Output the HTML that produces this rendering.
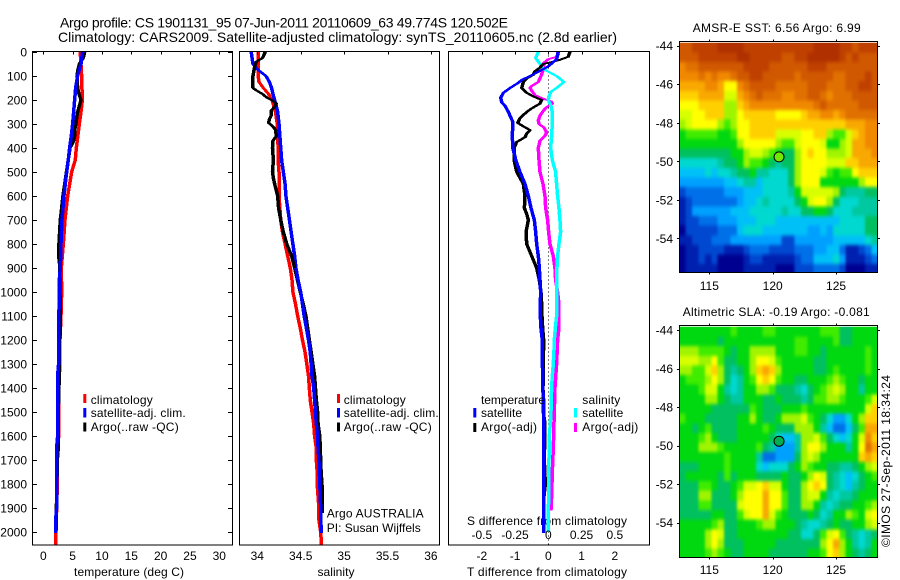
<!DOCTYPE html>
<html>
<head>
<meta charset="utf-8">
<title>Argo profile chart</title>
<style>
html,body{margin:0;padding:0;background:#fff;}
svg{display:block;}
text{font-family:"Liberation Sans",sans-serif;font-size:12px;fill:#000;}
.t14{font-size:14px;}
</style>
</head>
<body>
<svg id="chart" width="900" height="580" viewBox="0 0 900 580" xmlns="http://www.w3.org/2000/svg">
<rect x="0" y="0" width="900" height="580" fill="#fff"/>
<text class="t14" x="60" y="27.5" textLength="448" lengthAdjust="spacing">Argo profile: CS 1901131_95 07-Jun-2011 20110609_63 49.774S 120.502E</text>
<text class="t14" x="58" y="42" textLength="559" lengthAdjust="spacing">Climatology: CARS2009. Satellite-adjusted climatology: synTS_20110605.nc (2.8d earlier)</text>

<text x="74" y="576" textLength="110" lengthAdjust="spacing">temperature (deg C)</text>
<text x="317.5" y="576" textLength="37" lengthAdjust="spacing">salinity</text>
<text x="467" y="576" textLength="160" lengthAdjust="spacing">T difference from climatology</text>
<text x="467" y="525" textLength="160" lengthAdjust="spacing">S difference from climatology</text>

<text x="692.7" y="32" textLength="168" lengthAdjust="spacing">AMSR-E SST: 6.56 Argo: 6.99</text>
<text x="682.7" y="316" textLength="187" lengthAdjust="spacing">Altimetric SLA: -0.19 Argo: -0.081</text>
<text transform="translate(890,547) rotate(-90)" textLength="172" lengthAdjust="spacing">©IMOS 27-Sep-2011 18:34:24</text>
<g id="plots"></g>
<g id="overlay">
<rect x="83.3" y="394" width="3" height="9" fill="#f00"/>
<rect x="83.3" y="408" width="3" height="9.5" fill="#00f"/>
<rect x="83.3" y="422.5" width="3" height="9" fill="#000"/>
<text x="90.7" y="404" textLength="62" lengthAdjust="spacing">climatology</text>
<text x="90.7" y="417" textLength="95" lengthAdjust="spacing">satellite-adj. clim.</text>
<text x="90.7" y="431" textLength="88" lengthAdjust="spacing">Argo(..raw -QC)</text>

<rect x="337" y="394" width="3" height="9" fill="#f00"/>
<rect x="337" y="408" width="3" height="9.5" fill="#00f"/>
<rect x="337" y="422.5" width="3" height="9" fill="#000"/>
<text x="343.7" y="404" textLength="62" lengthAdjust="spacing">climatology</text>
<text x="343.7" y="417" textLength="95" lengthAdjust="spacing">satellite-adj. clim.</text>
<text x="343.7" y="431" textLength="88" lengthAdjust="spacing">Argo(..raw -QC)</text>
<text x="326.7" y="517.5" textLength="97" lengthAdjust="spacing">Argo AUSTRALIA</text>
<text x="326.7" y="532" textLength="94" lengthAdjust="spacing">PI: Susan Wijffels</text>

<text x="481" y="404" textLength="64" lengthAdjust="spacing">temperature</text>
<rect x="473.3" y="408" width="3" height="9.5" fill="#00f"/>
<rect x="473.3" y="423" width="3" height="9" fill="#000"/>
<text x="481" y="417" textLength="41" lengthAdjust="spacing">satellite</text>
<text x="481" y="431" textLength="56" lengthAdjust="spacing">Argo(-adj)</text>
<text x="582.3" y="404" textLength="38" lengthAdjust="spacing">salinity</text>
<rect x="574" y="408" width="3" height="9.5" fill="#0ff"/>
<rect x="574" y="423" width="3" height="9" fill="#f0f"/>
<text x="582.3" y="417" textLength="41" lengthAdjust="spacing">satellite</text>
<text x="582.3" y="431" textLength="56" lengthAdjust="spacing">Argo(-adj)</text>
</g>
</svg>
<script>
/* ---------- profile data ---------- */
var depthTicks = [0,100,200,300,400,500,600,700,800,900,1000,1100,1200,1300,1400,1500,1600,1700,1800,1900,2000];
var tempTicks = [0,5,10,15,20,25,30];
var salTicks = [34,34.5,35,35.5,36];
var salTickLabels = ['34','34.5','35','35.5','36'];
var tDiffTicks = [-2,-1,0,1,2];
var sDiffTicks = [-0.5,-0.25,0,0.25,0.5];
var sDiffTickLabels = ['-0.5','-0.25','0','0.25','0.5'];

var climTempDepth = [0,100,200,250,300,400,450,500,600,700,800,900,1000,1100,1200,1300,1400,1500,1600,1700,1800,1900,2000,2053];
var climTemp = [6.3,6.53,6.65,6.42,6.14,5.63,5.45,4.83,4.15,3.69,3.41,3.07,3.13,3.01,2.84,2.84,2.61,2.61,2.61,2.39,2.39,2.27,2.16,2.16];
var satTempDepth = [0,50,100,150,200,250,300,350,400,450,500,550,600,700,800,900,950,1000,1050,1100,1300,1350,1600,1650,1900,1950,2005];
var satTemp = [6.7,6.42,5.85,5.51,5.34,5.17,5.0,4.77,4.49,4.26,3.98,3.75,3.52,3.18,3.01,2.9,2.73,2.73,2.73,2.61,2.61,2.44,2.44,2.27,2.27,2.1,2.1];
var argoTempDepth = [0,25,50,75,100,125,150,175,200,225,250,275,300,325,350,375,400,500,600,650,700,750,800,860,900,1000,1100,1170,1200,1300,1400,1500,1650,1700,2000];
var argoTemp = [7.05,6.8,6.14,5.9,5.74,5.8,5.85,6.08,6.42,6.14,5.85,5.68,5.57,5.34,5.34,5.11,4.55,3.95,3.35,3.13,2.9,2.78,2.67,2.67,2.84,2.84,2.9,2.9,2.73,2.73,2.67,2.55,2.55,2.39,2.16];

var climSalDepth = [0,50,100,125,150,175,200,250,300,350,400,450,500,550,600,650,700,750,800,850,900,950,1000,1050,1100,1150,1200,1250,1300,1350,1400,1450,1500,1550,1600,1650,1700,1750,1800,1850,1900,1950,2000,2053];
var climSal = [34.01,34.01,34.01,34.02,34.07,34.13,34.17,34.21,34.23,34.235,34.24,34.24,34.25,34.25,34.25,34.26,34.27,34.29,34.32,34.35,34.38,34.40,34.41,34.44,34.465,34.495,34.52,34.55,34.57,34.59,34.6,34.61,34.63,34.65,34.66,34.68,34.68,34.69,34.69,34.70,34.71,34.71,34.73,34.74];
var satSalDepth = [0,25,50,75,100,125,150,175,200,250,300,350,400,450,500,550,600,650,700,750,800,850,900,950,1000,1050,1100,1150,1200,1250,1300,1350,1400,1450,1500,1550,1600,1650,1700,1750,1800,1850,1900,1950,2005];
var satSal = [33.93,33.94,33.95,34.01,34.10,34.14,34.165,34.18,34.20,34.235,34.25,34.26,34.27,34.28,34.30,34.32,34.33,34.35,34.37,34.39,34.41,34.43,34.445,34.47,34.50,34.52,34.54,34.565,34.59,34.61,34.62,34.63,34.65,34.66,34.67,34.68,34.695,34.70,34.71,34.715,34.72,34.725,34.73,34.73,34.74];
var argoSalDepth = [0,10,25,40,60,80,100,125,150,160,175,190,200,215,230,245,265,280,295,310,325,350,370,400,450,500,525,550,600,650,700,750,800,850,900,1000,1050,1100,1150,1200,1250,1300,1350,1400,1450,1500,1550,1600,1650,1700,1750,1800,1850,1920];
var argoSal = [34.09,34.08,34.06,33.99,33.97,33.96,33.95,33.95,33.95,33.99,34.06,34.11,34.165,34.22,34.195,34.16,34.16,34.14,34.13,34.18,34.21,34.22,34.18,34.175,34.185,34.175,34.185,34.2,34.235,34.245,34.27,34.30,34.34,34.395,34.43,34.495,34.53,34.56,34.58,34.60,34.62,34.64,34.66,34.67,34.68,34.695,34.70,34.72,34.725,34.73,34.735,34.745,34.75,34.75];

var satTDiffDepth = [0,30,60,75,100,115,130,150,170,190,210,225,250,275,290,350,400,425,450,500,550,600,650,700,750,800,850,900,950,1000,1050,1100,1150,1200,1400,1450,1800,2005];
var satTDiff = [0.3,0.25,0,-0.2,-0.55,-0.78,-0.92,-1.15,-1.35,-1.43,-1.4,-1.3,-1.2,-1.12,-1.07,-1.08,-1.07,-1.02,-0.98,-0.85,-0.7,-0.6,-0.52,-0.42,-0.38,-0.35,-0.3,-0.27,-0.25,-0.23,-0.24,-0.24,-0.22,-0.18,-0.17,-0.14,-0.14,-0.14];
var argoTDiffDepth = [0,20,35,50,65,80,95,110,125,150,170,185,200,215,235,250,275,295,310,325,340,355,375,400,450,500,525,550,600,650,675,700,750,800,850,900,950,1000,1050,1100,1150,1200,1400,1500,1550,1700,1800,1850,1950];
var argoTDiff = [0.65,0.6,0.3,-0.15,-0.25,-0.4,-0.45,-0.65,-0.75,-0.8,-0.65,-0.45,-0.2,-0.25,-0.5,-0.65,-0.85,-0.92,-0.75,-0.55,-0.65,-0.7,-0.95,-1.03,-1.03,-0.95,-0.85,-0.75,-0.7,-0.72,-0.65,-0.6,-0.67,-0.65,-0.5,-0.35,-0.27,-0.22,-0.2,-0.19,-0.17,-0.14,-0.16,-0.15,-0.1,-0.12,-0.09,-0.13,-0.14];
var satSDiffDepth = [0,25,50,75,100,125,150,165,185,200,225,250,300,350,400,450,500,550,600,650,700,750,800,850,900,1050,1100,1150,1200,1250,1300,1350,1400,1450,1500,1550,1600,1650,1700,1850,1900,2000];
var satSDiff = [-0.075,-0.095,-0.0625,-0.025,0.0625,0.1175,0.0625,0.02,0.005,0,0.02,0.03,0.03,0.025,0.0175,0.03,0.055,0.0625,0.07,0.08,0.0875,0.0925,0.08,0.07,0.065,0.065,0.0625,0.0525,0.045,0.0425,0.0375,0.03,0.025,0.0225,0.02,0.015,0.0075,0.0075,0.005,0.005,0,0];
var argoSDiffDepth = [0,10,20,30,45,60,75,100,125,140,150,165,180,195,205,215,230,245,265,285,300,315,335,350,370,400,450,500,550,600,650,700,750,800,850,900,950,1000,1050,1150,1200,1300,1400,1500,1550,1650,1750,1850,1910];
var argoSDiff = [0.07,0.075,0.0625,0,-0.0325,-0.0375,-0.0375,-0.055,-0.075,-0.12,-0.1375,-0.12,-0.1,-0.0375,0.02,0.03,-0.0125,-0.0375,-0.0625,-0.075,-0.07,-0.0325,-0.0125,-0.025,-0.0625,-0.075,-0.07,-0.0625,-0.04,-0.025,-0.02,-0.005,0.0025,0.0125,0.0375,0.05,0.055,0.07,0.08,0.08,0.07,0.0625,0.05,0.045,0.0425,0.0375,0.03,0.025,0.02];

/* ---------- map data (colour-level per grid cell) ---------- */
var mapLonTicks = [115,120,125];
var mapLatTicks = [-44,-46,-48,-50,-52,-54];
var argoLon = 120.5;
var argoLat = -49.77;
var levelColors = ['#000090','#0020b0','#0048d0','#0070e8','#00a0ff','#00c0f8','#00d8d0','#00c8a0','#00c060','#00d810','#40ec00','#a0f400','#d8ff00','#ffff00','#ffd000','#f8a800','#f08800','#e07000','#d05800','#c04000','#b03000'];
var sstLevels = [
[18,18,19,19,19,19,20,20,20,20,19,19,19,19,19,19,19,19,19,19,19,20,20,20,20,19,19,18,19,19,19],
[18,18,18,19,19,19,19,19,19,20,20,19,19,19,19,19,18,18,19,19,20,20,20,20,20,19,18,19,18,18,18],
[16,17,17,18,18,18,18,18,18,18,19,19,19,19,18,18,18,18,18,18,19,19,19,18,18,18,18,18,18,18,18],
[16,16,16,17,16,17,16,16,17,18,18,19,19,18,18,18,18,18,17,18,18,18,18,18,17,17,18,18,18,19,18],
[15,15,15,15,16,16,15,13,13,16,17,18,18,18,18,17,17,17,17,17,18,18,18,17,17,17,18,18,19,19,18],
[14,14,14,15,15,15,15,12,12,15,16,17,18,17,17,17,16,16,17,17,18,18,17,16,17,17,17,18,18,18,18],
[13,13,13,14,14,14,14,11,11,14,15,16,16,16,16,16,16,16,16,16,16,17,18,17,17,17,17,17,18,18,18],
[12,12,13,13,14,14,14,11,11,13,14,14,14,14,14,13,13,13,13,14,15,15,16,16,15,16,17,17,17,17,17],
[11,12,13,13,13,13,11,10,11,13,13,14,14,14,14,14,14,14,14,14,14,14,14,14,14,14,15,15,15,16,16],
[9,10,10,10,10,10,9,9,10,13,13,14,14,14,14,12,12,12,12,13,13,14,14,11,10,10,12,14,15,16,16],
[9,9,9,9,9,9,9,9,9,11,13,13,13,13,13,11,10,10,12,13,13,13,12,9,9,11,12,15,15,16,16],
[8,8,8,8,8,8,8,8,9,9,11,12,12,11,10,9,8,8,11,13,14,13,13,11,11,11,12,15,15,15,16],
[6,6,6,6,6,6,7,8,8,9,11,10,10,9,8,7,8,8,11,13,13,13,13,12,12,12,14,14,15,15,15],
[5,5,5,5,6,5,6,6,7,8,8,9,7,7,6,6,6,8,11,13,13,13,12,10,9,10,10,13,14,14,14],
[4,4,4,4,4,4,4,5,5,6,7,7,5,6,6,6,6,8,11,13,13,13,9,9,9,9,9,9,11,13,13],
[2,3,3,3,3,3,3,4,4,4,5,5,5,6,6,6,6,7,9,12,12,12,12,12,11,8,7,7,7,8,8],
[1,2,3,3,3,3,3,3,3,4,5,5,6,7,6,6,6,6,8,9,12,13,13,11,8,6,6,6,7,7,7],
[1,2,4,4,4,4,4,4,5,5,5,6,6,6,6,6,7,6,6,8,8,9,9,8,6,6,6,7,7,7,7],
[1,2,2,3,3,3,4,4,4,5,5,5,6,6,6,5,5,5,5,5,5,5,5,5,5,6,6,6,6,8,8],
[0,2,2,2,2,2,3,3,3,5,6,6,6,5,5,5,5,5,5,5,4,4,5,4,6,6,6,6,6,8,8],
[1,1,2,2,2,3,3,3,4,4,4,4,4,4,4,4,2,2,4,4,4,4,4,4,5,5,5,5,5,6,7],
[0,1,1,2,2,2,2,1,1,1,2,3,3,3,2,2,2,2,3,3,3,4,4,5,5,3,1,1,2,3,5],
[0,1,1,2,1,2,0,0,0,0,1,2,2,1,1,1,1,1,2,3,3,5,5,5,6,4,1,1,1,2,3],
[0,1,1,1,1,1,0,0,0,0,1,1,1,1,1,0,0,0,2,2,2,3,3,3,3,2,0,0,0,1,1]
];
var slaLevels = [
[9,9,9,9,9,9,9,9,10,9,9,9,9,10,10,9,9,9,9,9,9,9,10,10,10,8,8,9,9,9,9],
[9,9,9,9,9,9,8,9,9,9,9,9,9,9,9,9,9,9,10,10,9,9,9,9,10,8,8,9,9,9,9],
[11,11,11,10,10,10,10,9,8,9,9,11,11,11,11,9,9,9,10,10,9,9,8,9,9,9,9,9,9,10,9],
[12,12,12,11,11,13,10,8,8,9,9,11,13,13,12,10,9,9,9,9,9,8,8,9,9,9,9,9,9,10,9],
[11,11,10,10,12,14,11,8,7,8,9,11,14,15,14,11,9,9,9,9,9,8,8,9,10,9,9,9,9,10,9],
[9,10,10,10,11,13,11,8,6,7,9,10,13,14,13,10,9,9,8,8,9,9,9,10,11,10,9,9,8,9,9],
[9,9,9,10,12,12,9,7,6,7,9,9,11,11,10,8,8,8,7,6,8,9,10,11,12,11,9,9,7,9,9],
[9,9,9,9,11,11,9,8,7,7,9,9,9,8,8,9,8,8,8,7,8,10,10,11,11,10,9,9,9,10,12],
[9,9,9,9,9,8,8,8,8,8,8,10,9,8,8,8,9,9,9,10,9,9,9,9,9,9,9,9,9,12,14],
[10,9,9,9,8,8,8,8,8,9,9,11,9,8,8,9,11,11,11,12,10,9,8,6,4,4,6,9,11,14,14],
[9,9,8,9,10,8,8,8,8,9,9,9,9,10,9,8,8,8,11,11,11,9,7,5,3,3,5,8,10,15,15],
[9,9,9,10,11,9,8,8,8,9,9,9,9,9,8,6,5,5,7,11,11,12,10,8,6,5,6,9,12,16,14],
[9,9,9,11,11,11,10,9,9,9,9,9,10,8,7,4,4,4,7,11,13,13,11,9,9,9,7,9,13,17,15],
[9,9,9,9,9,9,9,10,9,9,9,9,7,3,3,4,4,4,8,11,12,11,9,9,9,9,9,9,14,15,14],
[8,8,8,9,9,9,9,10,9,9,9,9,6,5,6,6,6,8,9,11,10,9,9,8,8,7,7,8,9,11,12],
[8,9,9,9,9,9,8,10,8,9,9,9,8,8,8,8,9,8,8,9,11,13,12,8,7,6,5,6,8,9,10],
[8,8,8,10,10,9,8,8,9,10,12,12,13,14,12,12,9,8,8,11,13,14,13,8,7,6,5,7,8,9,9],
[8,8,8,11,11,8,8,8,9,11,13,13,13,15,13,13,10,8,8,11,12,12,9,7,6,7,7,8,9,9,9],
[8,8,8,10,10,8,8,8,8,12,13,13,13,15,13,13,10,8,8,11,11,9,7,6,7,8,8,9,9,10,11],
[8,8,8,8,8,9,9,8,8,10,12,13,13,15,12,10,9,8,8,8,9,8,6,7,9,9,11,10,9,12,13],
[9,9,9,9,9,10,11,8,8,9,9,9,10,11,11,9,9,9,8,7,6,6,7,8,9,8,8,9,9,11,12],
[9,9,9,9,11,13,12,8,8,9,9,9,9,9,9,9,9,8,8,6,6,8,10,12,13,10,8,7,6,7,8],
[9,9,9,9,11,13,11,8,8,8,9,9,9,9,9,8,8,8,8,8,8,8,11,13,15,11,9,7,6,7,9],
[9,9,9,9,10,11,10,9,8,8,9,9,9,9,8,8,8,8,8,8,9,9,10,13,14,11,9,8,7,8,9]
];

/* ---------- axis functions ---------- */
function yDepth(d){ return 52 + 0.24*d; }
function xTemp(t){ return 43.3 + 5.867*t; }
function xSal(s){ return 257.3 + 86.8*(s-34); }
function xTDiff(v){ return 548.3 + 33.25*v; }
function xSDiff(s){ return xTDiff(s*4); }
function xLon(lon){ return 772.7 + 12.67*(lon-120); }
function yLatTop(lat){ return 45.7 + 19.27*(-44-lat); }
function yLatBottom(lat){ return 330 + 19.27*(-44-lat); }

/* ---------- drawing ---------- */
var NS = 'http://www.w3.org/2000/svg';
var plots = document.getElementById('plots');

function make(tag, parent, name){
  var el = document.createElementNS(NS, tag);
  
  
  parent.appendChild(el);
  return el;
}
function line(parent, name, x1, y1, x2, y2){
  var el = make('line', parent, name);
  el.setAttribute('x1', x1);
  el.setAttribute('y1', y1);
  el.setAttribute('x2', x2);
  el.setAttribute('y2', y2);
  el.setAttribute('stroke', '#000');
  el.setAttribute('stroke-width', '1');
  el.setAttribute('shape-rendering', 'crispEdges');
  return el;
}
function label(parent, name, x, y, anchor, str){
  var el = make('text', parent, name);
  el.setAttribute('x', x);
  el.setAttribute('y', y);
  el.setAttribute('text-anchor', anchor);
  el.textContent = str;
  return el;
}
function frame(parent, name, x, y, w, h){
  var el = make('rect', parent, name);
  el.setAttribute('x', x);
  el.setAttribute('y', y);
  el.setAttribute('width', w);
  el.setAttribute('height', h);
  el.setAttribute('fill', 'none');
  el.setAttribute('stroke', '#000');
  el.setAttribute('stroke-width', '1');
  el.setAttribute('shape-rendering', 'crispEdges');
  return el;
}
/* MATLAB-style wide pen: three offset strokes, so steep parts are thick and flat parts thin */
function series(parent, name, values, depths, xf, color){
  var g = make('g', parent, name);
  var offsets = [-1.1, 0, 1.1];
  offsets.forEach(function(dx){
    var pts = values.map(function(v, i){
      return (xf(v) + dx).toFixed(2) + ',' + yDepth(depths[i]).toFixed(2);
    }).join(' ');
    var p = make('polyline', g, name + '-stroke');
    p.setAttribute('points', pts);
    p.setAttribute('fill', 'none');
    p.setAttribute('stroke', color);
    p.setAttribute('stroke-width', '1.3');
    p.setAttribute('stroke-linejoin', 'round');
    p.setAttribute('shape-rendering', 'crispEdges');
  });
  return g;
}

var TOP = 51.5, BOTTOM = 545;

/* temperature panel */
var p1 = make('g', plots, 'temperature-panel');
series(p1, 'temperature-climatology-line', climTemp, climTempDepth, xTemp, '#f00');
series(p1, 'temperature-argo-line', argoTemp, argoTempDepth, xTemp, '#000');
series(p1, 'temperature-satellite-line', satTemp, satTempDepth, xTemp, '#00f');
frame(p1, 'temperature-panel-frame', 32.5, TOP, 200, BOTTOM-TOP);
depthTicks.forEach(function(d){
  var y = Math.round(yDepth(d)) + 0.5;
  line(p1, 'depth-tick-left', 32.5, y, 37, y);
  line(p1, 'depth-tick-right', 228, y, 232.5, y);
  label(p1, 'depth-tick-label', 27, yDepth(d)+4.5, 'end', String(d));
});
tempTicks.forEach(function(t){
  var x = Math.round(xTemp(t)) + 0.5;
  line(p1, 'temperature-tick', x, TOP, x, TOP+3);
  label(p1, 'temperature-tick-label', xTemp(t), 560, 'middle', String(t));
});

/* salinity panel: the deep Argo profile sits behind the satellite line, the upper part in front */
var p2 = make('g', plots, 'salinity-panel');
series(p2, 'salinity-climatology-line', climSal, climSalDepth, xSal, '#f00');
series(p2, 'salinity-argo-line', argoSal, argoSalDepth, xSal, '#000');
series(p2, 'salinity-satellite-line', satSal, satSalDepth, xSal, '#00f');
series(p2, 'salinity-argo-upper-line', argoSal.slice(0, 35), argoSalDepth.slice(0, 35), xSal, '#000');
frame(p2, 'salinity-panel-frame', 239.5, TOP, 200, BOTTOM-TOP);
salTicks.forEach(function(s, i){
  var x = Math.round(xSal(s)) + 0.5;
  line(p2, 'salinity-tick', x, TOP, x, TOP+3);
  label(p2, 'salinity-tick-label', xSal(s), 560, 'middle', salTickLabels[i]);
});

/* difference panel */
var p3 = make('g', plots, 'difference-panel');
var zero = line(p3, 'zero-difference-line', xTDiff(0), TOP, xTDiff(0), BOTTOM);
zero.setAttribute('stroke-dasharray', '1 3');
series(p3, 'salinity-argo-difference-line', argoSDiff, argoSDiffDepth, xSDiff, '#f0f');
series(p3, 'salinity-satellite-difference-line', satSDiff, satSDiffDepth, xSDiff, '#0ff');
series(p3, 'temperature-argo-difference-line', argoTDiff, argoTDiffDepth, xTDiff, '#000');
series(p3, 'temperature-satellite-difference-line', satTDiff, satTDiffDepth, xTDiff, '#00f');
frame(p3, 'difference-panel-frame', 448.5, TOP, 201, BOTTOM-TOP);
tDiffTicks.forEach(function(v){
  var x = Math.round(xTDiff(v)) + 0.5;
  line(p3, 't-difference-tick', x, TOP, x, TOP+3);
  label(p3, 't-difference-tick-label', xTDiff(v), 560, 'middle', String(v));
});
sDiffTicks.forEach(function(s, i){
  label(p3, 's-difference-tick-label', xSDiff(s), 539, 'middle', sDiffTickLabels[i]);
});

/* maps */
function drawMap(name, levels, yLat, frameTop, frameBottom, clipId, dotColor, labelY){
  var g = make('g', plots, name);
  var defs = make('defs', g, name + '-defs');
  var cp = document.createElementNS(NS, 'clipPath');
  cp.setAttribute('id', clipId);
  var cr = document.createElementNS(NS, 'rect');
  cr.setAttribute('x', 679.5);
  cr.setAttribute('y', frameTop + 1.3);
  cr.setAttribute('width', 198);
  cr.setAttribute('height', frameBottom - frameTop - 1.3);
  cp.appendChild(cr);
  defs.appendChild(cp);
  var blur = document.createElementNS(NS, 'filter');
  blur.setAttribute('id', clipId + '-smooth');
  blur.setAttribute('filterUnits', 'userSpaceOnUse');
  blur.setAttribute('x', 650);
  blur.setAttribute('y', frameTop - 30);
  blur.setAttribute('width', 250);
  blur.setAttribute('height', frameBottom - frameTop + 60);
  blur.setAttribute('color-interpolation-filters', 'sRGB');
  var gb = document.createElementNS(NS, 'feGaussianBlur');
  gb.setAttribute('stdDeviation', '1.3 1.8');
  blur.appendChild(gb);
  defs.appendChild(blur);
  var clipper = make('g', g, name + '-clip');
  clipper.setAttribute('clip-path', 'url(#' + clipId + ')');
  var cells = make('g', clipper, name + '-cells');
  cells.setAttribute('filter', 'url(#' + clipId + '-smooth)');
  var lonStart = 112.63, lonStep = 0.505, latStart = -43.84, latStep = 0.5;
  var pad = 12;
  levels.forEach(function(row, r){
    row.forEach(function(level, c){
      var x0 = xLon(lonStart + c*lonStep), x1 = xLon(lonStart + (c+1)*lonStep);
      var y0 = yLat(latStart - r*latStep), y1 = yLat(latStart - (r+1)*latStep);
      if (c === 0) x0 -= pad;
      if (c === row.length-1) x1 += pad;
      if (r === 0) y0 -= pad;
      if (r === levels.length-1) y1 += pad;
      var cell = make('rect', cells, name + '-cell');
      cell.setAttribute('x', x0.toFixed(2));
      cell.setAttribute('y', y0.toFixed(2));
      cell.setAttribute('width', (x1-x0+0.4).toFixed(2));
      cell.setAttribute('height', (y1-y0+0.4).toFixed(2));
      cell.setAttribute('fill', levelColors[level]);
      cell.setAttribute('shape-rendering', 'crispEdges');
    });
  });
  frame(g, name + '-frame', 679.5, frameTop, 198, frameBottom-frameTop);
  mapLonTicks.forEach(function(lon){
    var x = Math.round(xLon(lon)) + 0.5;
    line(g, name + '-lon-tick-top', x, frameTop-2, x, frameTop);
    line(g, name + '-lon-tick-bottom', x, frameBottom, x, frameBottom+2);
    label(g, name + '-lon-tick-label', xLon(lon), labelY, 'middle', String(lon));
  });
  mapLatTicks.forEach(function(lat){
    var y = Math.round(yLat(lat)) + 0.5;
    line(g, name + '-lat-tick-left', 677, y, 679.5, y);
    line(g, name + '-lat-tick-right', 877.5, y, 880, y);
    label(g, name + '-lat-tick-label', 673, yLat(lat)+4.5, 'end', String(lat));
  });
  var dot = make('circle', g, name + '-argo-position');
  dot.setAttribute('cx', xLon(argoLon));
  dot.setAttribute('cy', yLat(argoLat));
  dot.setAttribute('r', 5);
  dot.setAttribute('fill', dotColor);
  dot.setAttribute('stroke', '#000');
  dot.setAttribute('stroke-width', '1');
}
drawMap('sst-map', sstLevels, yLatTop, 41.5, 272.5, 'clip-sst', '#70e800', 290);
drawMap('sla-map', slaLevels, yLatBottom, 325.5, 557.5, 'clip-sla', '#00b050', 574);
</script>
</body>
</html>
